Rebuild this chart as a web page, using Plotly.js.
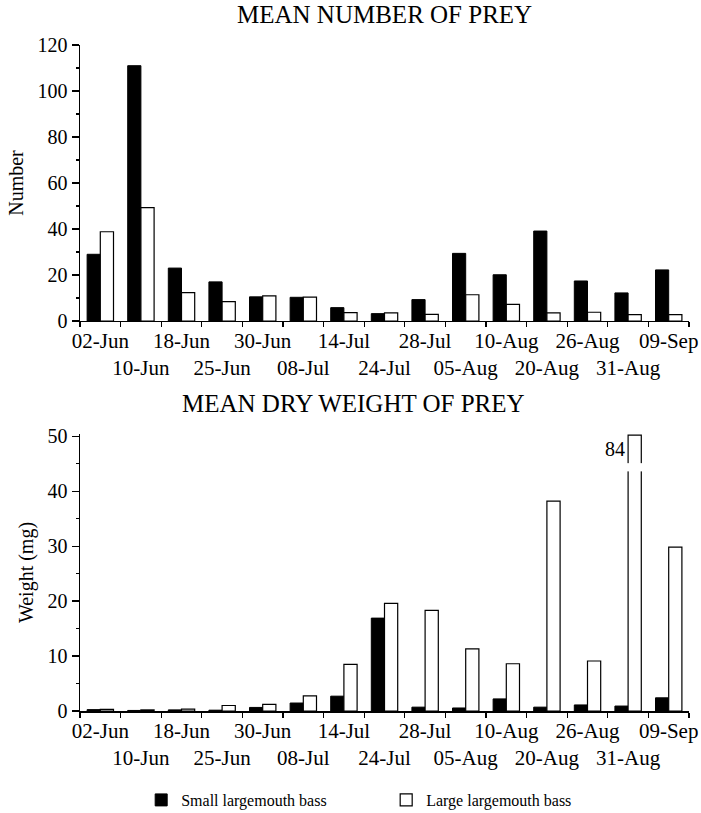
<!DOCTYPE html>
<html>
<head>
<meta charset="utf-8">
<script src="https://cdn.plot.ly/plotly-3.0.1.min.js"></script>
<style>html,body{margin:0;padding:0;background:#fff;}#chart{width:701px;height:813px;}</style>
</head>
<body>
<div id="chart"></div>
<script>
const categories = ['02-Jun','10-Jun','18-Jun','25-Jun','30-Jun','08-Jul','14-Jul','24-Jul','28-Jul','05-Aug','10-Aug','20-Aug','26-Aug','31-Aug','09-Sep'];
const numberSmall = [29, 111, 23, 17, 10.5, 10.3, 5.8, 3.2, 9.3, 29.4, 20.1, 39.1, 17.4, 12.2, 22.2];
const numberLarge = [38.8, 49.3, 12.3, 8.4, 10.9, 10.4, 3.6, 3.5, 2.9, 11.4, 7.2, 3.5, 3.8, 2.8, 2.8];
const weightSmall = [0.25, 0.1, 0.2, 0.15, 0.65, 1.45, 2.7, 16.9, 0.7, 0.55, 2.2, 0.7, 1.1, 0.9, 2.4];
const weightLarge = [0.3, 0.2, 0.35, 1.0, 1.2, 2.75, 8.5, 19.6, 18.3, 11.3, 8.6, 38.2, 9.1, 84, 29.8];
const seriesNames = ['Small largemouth bass', 'Large largemouth bass'];
const tickText = categories.map((c, i) => i % 2 === 0 ? c : ' <br>' + c);

const FONT = 'Liberation Serif, Times New Roman, serif';
const weightMax = 50.4;
const weightCap = 50.2;
const weightLargeShown = weightLarge.map(v => Math.min(v, weightCap));
const brokenIdx = weightLarge.findIndex(v => v > weightCap);

const blackBar = {color: '#000', line: {color: '#000', width: 1}};
const whiteBar = {color: '#fff', line: {color: '#000', width: 1.2}};

const traces = [
  {type: 'bar', x: categories, y: numberSmall, name: seriesNames[0], marker: blackBar, xaxis: 'x', yaxis: 'y', legendgroup: 's'},
  {type: 'bar', x: categories, y: numberLarge, name: seriesNames[1], marker: whiteBar, xaxis: 'x', yaxis: 'y', legendgroup: 'l'},
  {type: 'bar', x: categories, y: weightSmall, name: seriesNames[0], marker: blackBar, xaxis: 'x2', yaxis: 'y2', showlegend: false, legendgroup: 's'},
  {type: 'bar', x: categories, y: weightLargeShown, name: seriesNames[1], marker: whiteBar, xaxis: 'x2', yaxis: 'y2', showlegend: false, legendgroup: 'l'}
];

const xCommon = {
  type: 'category', categoryorder: 'array', categoryarray: categories,
  tickmode: 'array', tickvals: categories, ticktext: tickText, tickangle: 0, automargin: false,
  tickson: 'boundaries', ticks: 'outside', ticklen: 5, tickwidth: 1.2, tickcolor: '#000',
  showline: true, linecolor: '#000', linewidth: 1.5, showgrid: false, zeroline: false,
  tickfont: {family: FONT, size: 21, color: '#000'}, fixedrange: true
};
const yCommon = {
  ticks: 'outside', ticklen: 7, tickwidth: 1.2, tickcolor: '#000', automargin: false,
  showline: true, linecolor: '#000', linewidth: 1.5, showgrid: false, zeroline: false,
  tickfont: {family: FONT, size: 20, color: '#000'}, fixedrange: true
};

const layout = {
  width: 701, height: 813,
  margin: {l: 80, r: 12, t: 45, b: 102},
  paper_bgcolor: '#fff', plot_bgcolor: '#fff',
  barmode: 'group', bargap: 0.35, bargroupgap: 0,
  showlegend: true,
  legend: {orientation: 'h', xref: 'container', yref: 'container', x: 0.2014, y: 0.016, xanchor: 'left', yanchor: 'middle',
           font: {family: FONT, size: 16, color: '#000'}, entrywidth: 200, entrywidthmode: 'pixels',
           bgcolor: 'rgba(0,0,0,0)', traceorder: 'normal'},
  xaxis: Object.assign({}, xCommon, {anchor: 'y', domain: [0, 1]}),
  yaxis: Object.assign({}, yCommon, {anchor: 'x', domain: [0.5856, 1], range: [0, 120], dtick: 20,
          minor: {dtick: 10, ticks: 'outside', ticklen: 3, tickcolor: '#000'},
          title: {text: 'Number', font: {family: FONT, size: 20, color: '#000'}, standoff: 8}}),
  xaxis2: Object.assign({}, xCommon, {anchor: 'y2', domain: [0, 1]}),
  yaxis2: Object.assign({}, yCommon, {anchor: 'x2', domain: [0, 0.4159], range: [0, weightMax], tickvals: [0,10,20,30,40,50],
          minor: {tickvals: [5,15,25,35,45], ticks: 'outside', ticklen: 3, tickcolor: '#000'},
          title: {text: 'Weight (mg)', font: {family: FONT, size: 20, color: '#000'}, standoff: 8}}),
  annotations: [
    {text: 'MEAN NUMBER OF PREY', xref: 'paper', yref: 'paper', x: 0.5, y: 1.0465, xanchor: 'center', yanchor: 'middle',
     showarrow: false, font: {family: FONT, size: 25, color: '#000'}},
    {text: 'MEAN DRY WEIGHT OF PREY', xref: 'paper', yref: 'paper', x: 0.449, y: 0.461, xanchor: 'center', yanchor: 'middle',
     showarrow: false, font: {family: FONT, size: 25, color: '#000'}},
    {text: String(weightLarge[brokenIdx]), xref: 'x2', yref: 'y2', x: brokenIdx - 0.02, y: weightCap - 2.5, xanchor: 'right', yanchor: 'middle',
     showarrow: false, font: {family: FONT, size: 20, color: '#000'}}
  ],
  shapes: [
    {type: 'rect', xref: 'x2', yref: 'y2', x0: brokenIdx - 0.03, x1: brokenIdx + 0.4, y0: 43.6, y1: 45.1,
     fillcolor: '#fff', line: {width: 0}, layer: 'above'}
  ]
};

Plotly.newPlot('chart', traces, layout, {displayModeBar: false, staticPlot: true});
</script>
</body>
</html>
